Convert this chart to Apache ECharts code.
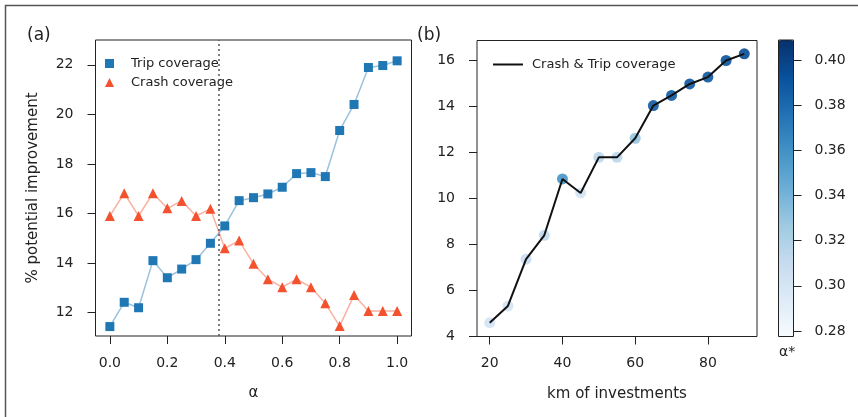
<!DOCTYPE html>
<html>
<head>
    <meta charset="utf-8">
    <title>Coverage improvement</title>
    <script type="text/javascript" src="https://cdn.jsdelivr.net/npm/echarts@6.0.0/dist/echarts.min.js"></script>
    <style type="text/css">
        html, body { margin: 0; padding: 0; background: #fff; }
        #main { width: 858px; height: 417px; }
    </style>
</head>
<body>
    <div id="main"></div>
    <script type="text/javascript">
        // panel (a): alpha sweep
        var alphas = [0.0, 0.05, 0.1, 0.15, 0.2, 0.25, 0.3, 0.35, 0.4, 0.45, 0.5,
                      0.55, 0.6, 0.65, 0.7, 0.75, 0.8, 0.85, 0.9, 0.95, 1.0];
        var tripCoverage = [11.44, 12.42, 12.20, 14.10, 13.41, 13.76, 14.14, 14.80, 15.50, 16.52, 16.64,
                            16.79, 17.06, 17.61, 17.65, 17.49, 19.35, 20.40, 21.89, 21.97, 22.16];
        var crashCoverage = [15.90, 16.82, 15.90, 16.82, 16.21, 16.51, 15.90, 16.19, 14.60, 14.91, 13.97,
                             13.35, 13.03, 13.35, 13.03, 12.38, 11.46, 12.71, 12.07, 12.07, 12.07];
        var alphaStar = 0.384;

        // panel (b): km of investments
        var km = [20, 25, 30, 35, 40, 45, 50, 55, 60, 65, 70, 75, 80, 85, 90];
        var combined = [4.60, 5.33, 7.36, 8.40, 10.85, 10.24, 11.79, 11.79, 12.62, 14.04, 14.48, 14.98, 15.28, 16.00, 16.29];
        var bestAlpha = [0.302, 0.302, 0.308, 0.312, 0.358, 0.302, 0.314, 0.314, 0.330, 0.388, 0.388, 0.390, 0.390, 0.392, 0.395];

        // tick labels
        var ticksA_x = [0, 0.2, 0.4, 0.6, 0.8, 1.0];
        var ticksA_y = [12, 14, 16, 18, 20, 22];
        var ticksB_x = [20, 40, 60, 80];
        var ticksB_y = [4, 6, 8, 10, 12, 14, 16];
        var ticksCbar = [0.28, 0.30, 0.32, 0.34, 0.36, 0.38, 0.40];

        var blues = ['#f7fbff', '#deebf7', '#c6dbef', '#9ecae1', '#6baed6', '#4292c6', '#2171b5', '#08519c', '#08306b'];

        function zip(xs, ys) {
            return xs.map(function (x, i) { return [x, ys[i]]; });
        }

        var font = 'DejaVu Sans';
        var ink = '#222';

        var myChart = echarts.init(document.getElementById('main'), null, { renderer: 'canvas' });

        function tickAxis(vals, extra) {
            var ax = {
                type: 'value',
                axisLine: { show: false, onZero: false },
                splitLine: { show: false },
                axisTick: { show: true, inside: false, length: 8, lineStyle: { color: ink }, customValues: vals },
                axisLabel: { color: ink, fontSize: 14, customValues: vals }
            };
            for (var k in extra) {
                if (k === 'axisLabel') {
                    for (var j in extra.axisLabel) ax.axisLabel[j] = extra.axisLabel[j];
                } else {
                    ax[k] = extra[k];
                }
            }
            return ax;
        }

        var option = {
            animation: false,
            backgroundColor: '#fff',
            textStyle: { fontFamily: font },
            title: [
                { text: '(a)', left: 22, top: 22, textStyle: { fontSize: 17, fontWeight: 'normal', color: ink, fontFamily: font } },
                { text: '(b)', left: 412, top: 22, textStyle: { fontSize: 17, fontWeight: 'normal', color: ink, fontFamily: font } }
            ],
            graphic: [
                { type: 'polyline', shape: { points: [[5.5, 417], [5.5, 5.5], [858, 5.5]] }, style: { stroke: '#555', lineWidth: 1.5, fill: null } },
                { type: 'text', left: 779, top: 345, style: { text: 'α*', fontSize: 14, fill: ink, fontFamily: font } }
            ],
            legend: [
                {
                    left: 100, top: 52, orient: 'vertical', itemGap: 6,
                    itemWidth: 9, itemHeight: 9,
                    textStyle: { fontSize: 13, color: ink, fontFamily: font, padding: [0, 0, 0, 12] },
                    data: [
                        { name: 'Trip coverage', icon: 'rect' },
                        { name: 'Crash coverage', icon: 'triangle' }
                    ]
                },
                {
                    left: 488, top: 53, itemWidth: 30, itemHeight: 2,
                    textStyle: { fontSize: 13, color: ink, fontFamily: font, padding: [0, 0, 0, 4] },
                    data: [{ name: 'Crash & Trip coverage', icon: 'rect' }]
                }
            ],
            grid: [
                { left: 95.5, top: 40, width: 316, height: 296, show: true, borderColor: ink, borderWidth: 1, backgroundColor: 'transparent' },
                { left: 477, top: 40.5, width: 280, height: 296, show: true, borderColor: ink, borderWidth: 1, backgroundColor: 'transparent' },
                { left: 778.5, top: 40, width: 15, height: 296.5, show: true, borderColor: ink, borderWidth: 1, z: 10 }
            ],
            xAxis: [
                tickAxis(ticksA_x, {
                    gridIndex: 0, min: -0.05, max: 1.05,
                    name: 'α', nameLocation: 'middle', nameGap: 50,
                    nameTextStyle: { fontSize: 15, color: ink, fontFamily: font },
                    axisLabel: { margin: 20, formatter: function (v) { return v.toFixed(1); } }
                }),
                tickAxis(ticksB_x, {
                    gridIndex: 1, min: 16.5, max: 93.5,
                    name: 'km of investments', nameLocation: 'middle', nameGap: 50,
                    nameTextStyle: { fontSize: 15, color: ink, fontFamily: font },
                    axisLabel: { margin: 20 }
                }),
                { gridIndex: 2, type: 'value', min: 0, max: 1, show: false }
            ],
            yAxis: [
                tickAxis(ticksA_y, {
                    gridIndex: 0, min: 11.06, max: 23.0,
                    name: '% potential improvement', nameLocation: 'middle', nameGap: 55,
                    nameTextStyle: { fontSize: 15, color: ink, fontFamily: font },
                    axisLabel: { margin: 22 }
                }),
                tickAxis(ticksB_y, {
                    gridIndex: 1, min: 4.0, max: 16.87,
                    axisLabel: { margin: 22 }
                }),
                tickAxis(ticksCbar, {
                    gridIndex: 2, position: 'right', min: 0.2775, max: 0.409,
                    axisLabel: { margin: 21, formatter: function (v) { return v.toFixed(2); } }
                })
            ],
            visualMap: {
                type: 'continuous', min: 0.2775, max: 0.409, dimension: 2, seriesIndex: 2,
                calculable: false, left: 778.5, top: 40, itemWidth: 15, itemHeight: 296.5,
                padding: 0, inRange: { color: blues }, z: 5
            },
            series: [
                {
                    name: 'Trip coverage', type: 'line', xAxisIndex: 0, yAxisIndex: 0,
                    data: zip(alphas, tripCoverage),
                    symbol: 'rect', symbolSize: 9,
                    itemStyle: { color: '#1f77b4' },
                    lineStyle: { color: '#1f77b4', width: 1.5, opacity: 0.45 },
                    markLine: {
                        silent: true, symbol: 'none', label: { show: false },
                        lineStyle: { color: '#555', type: [2, 3], width: 1.5 },
                        data: [{ xAxis: alphaStar }]
                    }
                },
                {
                    name: 'Crash coverage', type: 'line', xAxisIndex: 0, yAxisIndex: 0,
                    data: zip(alphas, crashCoverage),
                    symbol: 'triangle', symbolSize: 10,
                    itemStyle: { color: '#f4512f' },
                    lineStyle: { color: '#f4512f', width: 1.5, opacity: 0.45 }
                },
                {
                    name: 'alpha star', type: 'scatter', xAxisIndex: 1, yAxisIndex: 1,
                    data: km.map(function (k, i) { return [k, combined[i], bestAlpha[i]]; }),
                    symbolSize: 11, itemStyle: { opacity: 0.9 }, z: 2
                },
                {
                    name: 'Crash & Trip coverage', type: 'line', xAxisIndex: 1, yAxisIndex: 1,
                    data: zip(km, combined), symbol: 'none',
                    itemStyle: { color: '#111' },
                    lineStyle: { color: '#111', width: 2 }, z: 3
                }
            ]
        };

        myChart.setOption(option);
    </script>
</body>
</html>
